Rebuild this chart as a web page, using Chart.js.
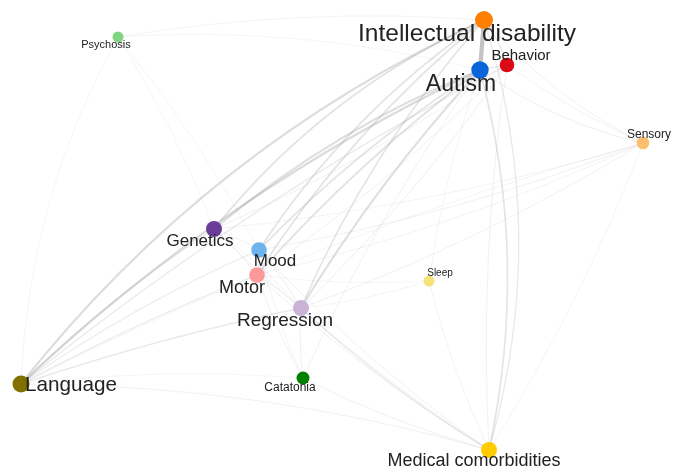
<!DOCTYPE html>
<html><head><meta charset="utf-8">
<script src="https://cdn.jsdelivr.net/npm/chart.js@4/dist/chart.umd.min.js"></script>
<style>html,body{margin:0;padding:0;background:#fff;}#wrap{width:681px;height:469px;}</style>
</head><body><div id="wrap"><canvas id="c" width="681" height="469"></canvas></div>
<script>
// Node data
const nodeNames = ["Intellectual disability","Autism","Behavior","Sensory","Psychosis","Genetics","Mood","Motor","Regression","Sleep","Language","Catatonia","Medical comorbidities"];
const nodeX = [484,480,507,643,118,214,259,257,301,429,21,303,489];
const nodeY = [20,70,65,143,37,229,250,275,308,281,384,378,450];
const nodeSize = [9,8.7,7.3,6.3,5.5,8,7.8,7.8,8,5.5,8.5,6.5,8];
// Edges
const edgeFrom = ["Autism","Autism","Intellectual disability","Language","Language","Language","Language","Language","Language","Language","Language","Language","Language",
 "Genetics","Genetics","Mood","Mood","Motor","Motor","Regression","Regression",
 "Medical comorbidities","Intellectual disability","Medical comorbidities","Medical comorbidities","Medical comorbidities","Medical comorbidities","Medical comorbidities","Medical comorbidities","Medical comorbidities",
 "Sensory","Sensory","Sensory","Sensory","Sensory","Sensory","Sensory","Sensory",
 "Catatonia","Catatonia","Catatonia","Catatonia",
 "Psychosis","Psychosis","Psychosis","Psychosis",
 "Sleep","Sleep","Sleep",
 "Genetics","Genetics","Mood","Motor","Genetics","Mood","Behavior","Behavior","Behavior","Language"];
const edgeTo = ["Intellectual disability","Behavior","Behavior","Intellectual disability","Autism","Behavior","Genetics","Mood","Motor","Regression","Medical comorbidities","Sensory","Psychosis",
 "Intellectual disability","Autism","Intellectual disability","Autism","Intellectual disability","Autism","Autism","Intellectual disability",
 "Autism","Medical comorbidities","Regression","Motor","Mood","Genetics","Catatonia","Sleep","Behavior",
 "Autism","Intellectual disability","Behavior","Genetics","Mood","Motor","Regression","Medical comorbidities",
 "Regression","Motor","Mood","Autism",
 "Intellectual disability","Autism","Mood","Genetics",
 "Autism","Regression","Motor",
 "Mood","Motor","Motor","Regression","Regression","Regression","Regression","Motor","Genetics","Catatonia"];
const edgeWeight = [1.0,0.2,0.2,0.45,0.5,0.22,0.2,0.15,0.2,0.2,0.08,0.05,0.04,
 0.35,0.4,0.3,0.3,0.3,0.35,0.4,0.3,
 0.3,0.2,0.15,0.1,0.08,0.08,0.08,0.06,0.08,
 0.1,0.08,0.06,0.06,0.08,0.06,0.08,0.05,
 0.1,0.08,0.06,0.08,
 0.06,0.04,0.04,0.04,
 0.05,0.05,0.04,
 0.08,0.06,0.1,0.1,0.06,0.08,0.1,0.08,0.08,0.04];
const edgeCurve = [0,0,0.1,0.12,0.08,0.05,0.05,0.05,0.03,0.03,0.07,0.05,0.12,
 0.12,0.08,0.1,0.06,0.08,0.05,0.05,0.08,
 -0.12,0.15,0.05,0.05,0.05,0.05,0.05,0.05,0.05,
 0.1,0.1,0.05,0.05,0.05,0.05,0.05,0.05,
 0.05,0.05,0.05,0.05,
 0.06,0.08,0.05,0.05,
 0.05,0.05,0.05,
 0.05,0.05,0.05,0.05,0.05,0.05,0.05,0.05,0.05,0.05];

// Styles
const nodeColors = ["#FF7F00","#0A64DC","#DC0A14","#FDBF6F","#80D680","#6A3D9A","#6CB4EE","#FB9A99","#CAB2D6","#F6E27A","#807000","#007F00","#FFCC00"];
const labelFont = [24.5,23,15,12,11,17,17,18,19,10,20.7,12,18];
const labelDX = [-17,-19,14,6,-12,-14,16,-15,-16,11,50,-13,-15];
const labelDY = [14,15,-9,-8,8,12,11,13,13,-8,1,10,11];

const idx = n => nodeNames.indexOf(n);

const edgePlugin = {
  id: 'edges',
  beforeDatasetsDraw(chart) {
    const ctx = chart.ctx, xs = chart.scales.x, ys = chart.scales.y;
    ctx.save();
    ctx.lineCap = 'round';
    const order = edgeWeight.map((w,i)=>i).sort((a,b)=>edgeWeight[a]-edgeWeight[b]);
    for (const i of order) {
      const a = idx(edgeFrom[i]), b = idx(edgeTo[i]);
      const x1 = xs.getPixelForValue(nodeX[a]), y1 = ys.getPixelForValue(nodeY[a]);
      const x2 = xs.getPixelForValue(nodeX[b]), y2 = ys.getPixelForValue(nodeY[b]);
      const dx = x2-x1, dy = y2-y1;
      const mx = (x1+x2)/2, my = (y1+y2)/2;
      const cx = mx + edgeCurve[i]*dy, cy = my - edgeCurve[i]*dx;
      const w = edgeWeight[i];
      ctx.strokeStyle = 'rgba(150,150,150,' + (0.12 + w*0.45).toFixed(3) + ')';
      ctx.lineWidth = 0.6 + w*3.6;
      ctx.beginPath();
      ctx.moveTo(x1,y1);
      ctx.quadraticCurveTo(cx,cy,x2,y2);
      ctx.stroke();
    }
    ctx.restore();
  },
  afterDatasetsDraw(chart) {
    const ctx = chart.ctx, xs = chart.scales.x, ys = chart.scales.y;
    ctx.save();
    ctx.textAlign = 'center';
    ctx.textBaseline = 'middle';
    ctx.fillStyle = '#222';
    nodeNames.forEach((n,i) => {
      ctx.font = labelFont[i] + 'px "Liberation Sans", Arial, sans-serif';
      ctx.fillText(n, xs.getPixelForValue(nodeX[i]) + labelDX[i], ys.getPixelForValue(nodeY[i]) + labelDY[i]);
    });
    ctx.restore();
  }
};

new Chart(document.getElementById('c'), {
  type: 'scatter',
  data: {
    datasets: [{
      data: nodeX.map((x,i)=>({x:x, y:nodeY[i]})),
      pointRadius: nodeSize,
      pointBackgroundColor: nodeColors,
      pointBorderWidth: 0,
      pointBorderColor: nodeColors,
      clip: false
    }]
  },
  options: {
    responsive: false,
    animation: false,
    layout: { padding: 0, autoPadding: false },
    plugins: { legend: { display: false }, tooltip: { enabled: false } },
    scales: {
      x: { type: 'linear', min: 0, max: 681, display: false },
      y: { type: 'linear', min: 0, max: 469, reverse: true, display: false }
    }
  },
  plugins: [edgePlugin]
});
</script>
</body></html>
